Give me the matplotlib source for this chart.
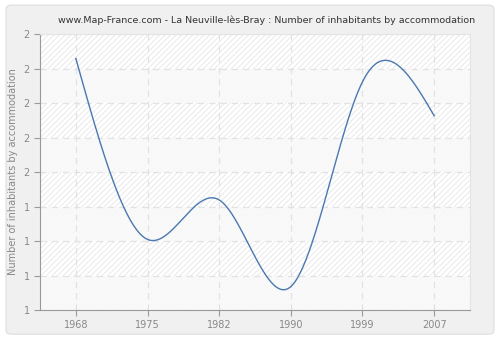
import numpy as np
import matplotlib
matplotlib.use("Agg")
import matplotlib.pyplot as plt
from matplotlib.patches import FancyBboxPatch, Rectangle

years = ["1968", "1975", "1982", "1990", "1999", "2007"]
values = [1.911, 1.256, 1.399, 1.085, 1.827, 1.704]
y_ticks = [1.0, 1.125, 1.25, 1.375, 1.5, 1.625, 1.75, 1.875, 2.0]


def natural_spline(x, y, n=400):
    # plain natural cubic spline, only used to draw the smooth line
    x = np.asarray(x, float)
    y = np.asarray(y, float)
    k = len(x)
    h = np.diff(x)
    A = np.zeros((k, k))
    r = np.zeros(k)
    A[0, 0] = A[-1, -1] = 1
    for i in range(1, k - 1):
        A[i, i - 1] = h[i - 1]
        A[i, i] = 2 * (h[i - 1] + h[i])
        A[i, i + 1] = h[i]
        r[i] = 6 * ((y[i + 1] - y[i]) / h[i] - (y[i] - y[i - 1]) / h[i - 1])
    M = np.linalg.solve(A, r)
    xs = np.linspace(x[0], x[-1], n)
    idx = np.clip(np.searchsorted(x, xs) - 1, 0, k - 2)
    x0, x1 = x[idx], x[idx + 1]
    hh = x1 - x0
    a = (x1 - xs) / hh
    b = (xs - x0) / hh
    ys = (a * y[idx] + b * y[idx + 1]
          + ((a ** 3 - a) * M[idx] + (b ** 3 - b) * M[idx + 1]) * hh ** 2 / 6)
    return xs, ys


fig = plt.figure(figsize=(5, 3.4), dpi=100)
fig.patch.set_facecolor("white")
fig.patches.append(FancyBboxPatch((0.012, 0.017), 0.976, 0.968,
                                  boxstyle="round,pad=0,rounding_size=0.012",
                                  transform=fig.transFigure, facecolor="#f0f0f0",
                                  edgecolor="#dddddd", linewidth=0.8, zorder=-10))

ax = fig.add_axes([0.08, 0.088, 0.86, 0.812])
ax.set_facecolor("white")
x = np.arange(len(years))
ax.set_xlim(-0.5, len(years) - 0.5)
ax.set_ylim(1, 2)

# hatched background with alternating lighter bands
plt.rcParams["hatch.color"] = "#e6e6e6"
plt.rcParams["hatch.linewidth"] = 0.6
ax.add_patch(Rectangle((0, 0), 1, 1, transform=ax.transAxes, facecolor="white",
                       edgecolor="#e6e6e6", hatch="//////", linewidth=0, zorder=0))
for i in range(len(y_ticks) - 1):
    if i % 2 == 0:
        ax.axhspan(y_ticks[i], y_ticks[i + 1], facecolor="#f9f9f9", alpha=0.88,
                   linewidth=0, zorder=0.5)

ax.set_yticks(y_ticks)
ax.set_yticklabels(["%.0f" % v for v in y_ticks])
ax.set_xticks(x)
ax.set_xticklabels(years)
ax.grid(True, color="#e2e2e2", linestyle=(0, (5, 4)), linewidth=0.9)
ax.set_axisbelow(True)

xs, ys = natural_spline(x, values)
ax.plot(xs, ys, color="#4a78b0", linewidth=1.0, zorder=3)

for side in ["top", "right"]:
    ax.spines[side].set_color("#e4e4e4")
for side in ["left", "bottom"]:
    ax.spines[side].set_color("#999999")
ax.tick_params(colors="#999999", labelcolor="#888888", labelsize=7, length=4)
ax.set_ylabel("Number of inhabitants by accommodation", fontsize=7, color="#888888")
ax.set_title("www.Map-France.com - La Neuville-lès-Bray : Number of inhabitants by accommodation",
             fontsize=6.8, color="#333333", x=0.528, pad=8)

fig.savefig("out.png", dpi=100, facecolor=fig.get_facecolor())
